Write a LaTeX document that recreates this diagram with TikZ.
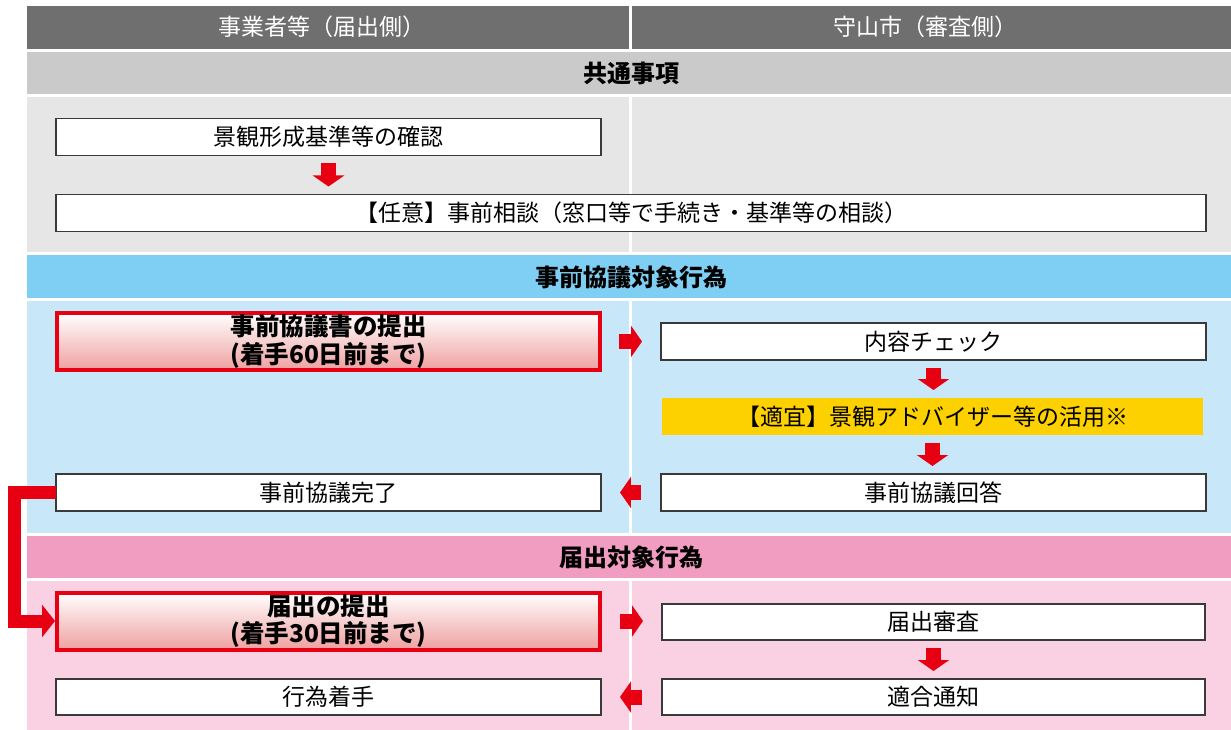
\documentclass[tikz,border=0pt]{standalone}
\usepackage{fontspec}
\setmainfont{Noto Sans CJK JP}
\usetikzlibrary{arrows.meta,calc}
\definecolor{hdr}{HTML}{6F6F6F}
\definecolor{bandA}{HTML}{C9CAC9}
\definecolor{bodyA}{HTML}{E6E6E6}
\definecolor{bandB}{HTML}{7FCEF3}
\definecolor{bodyB}{HTML}{C8E7F9}
\definecolor{bandC}{HTML}{F19DC2}
\definecolor{bodyC}{HTML}{F9D1E3}
\definecolor{myred}{HTML}{E60012}
\definecolor{redpink}{HTML}{EFA0A0}
\definecolor{myyellow}{HTML}{FDD000}
\definecolor{boxline}{HTML}{3A3A3A}
\begin{document}
\begin{tikzpicture}[x=1pt,y=-1pt,
  every node/.style={inner sep=0pt, outer sep=0pt},
  box/.style={draw=boxline, line width=1.5pt, fill=white, minimum width=545pt, minimum height=37pt, font=\fontsize{23}{27}\selectfont},
  redbox/.style={draw=myred, line width=4pt, top color=white, bottom color=redpink, minimum width=543pt, minimum height=57pt, align=center, font=\bfseries\fontsize{24.5}{27.5}\selectfont},
  ybox/.style={fill=myyellow, minimum width=541pt, minimum height=37pt, font=\fontsize{23}{27}\selectfont},
  bandtext/.style={font=\bfseries\fontsize{24}{27}\selectfont},
  hdrtext/.style={text=white, font=\fontsize{23}{27}\selectfont},
  barrow/.style={draw=myred, line width=15pt, -{Triangle[length=11pt,width=31pt]}},
  conn/.style={draw=myred, line width=13pt, line join=miter, -{Triangle[length=13pt,width=32pt]}}
]
\useasboundingbox (0,0) rectangle (1231,730);
% backgrounds
\fill[hdr] (27,6) rectangle (629,49);
\fill[hdr] (632,6) rectangle (1231,49);
\fill[bandA] (27,52) rectangle (1231,94);
\fill[bodyA] (27,97) rectangle (629,252);
\fill[bodyA] (632,97) rectangle (1231,252);
\fill[bandB] (27,255) rectangle (1231,298);
\fill[bodyB] (27,301) rectangle (629,533);
\fill[bodyB] (632,301) rectangle (1231,533);
\fill[bandC] (27,536) rectangle (1231,578);
\fill[bodyC] (27,581) rectangle (629,730);
\fill[bodyC] (632,581) rectangle (1231,730);
% header and band titles
\node[hdrtext] (h1) at (322,27) {事業者等（届出側）};
\node[hdrtext] (h2) at (925,27) {守山市（審査側）};
\node[bandtext] (t1) at (631,73) {共通事項};
\node[bandtext] (t2) at (631,277) {事前協議対象行為};
\node[bandtext] (t3) at (631,557) {届出対象行為};
% boxes
\node[box] (b1) at (328.5,137) {景観形成基準等の確認};
\node[box, minimum width=1150pt] (b2) at (631,213) {【任意】事前相談（窓口等で手続き・基準等の相談）};
\node[redbox] (r1) at (328.5,341.5) {事前協議書の提出\\(着手60日前まで)};
\node[box] (c1) at (933.5,341.5) {内容チェック};
\node[ybox] (y1) at (932.5,416.5) {【適宜】景観アドバイザー等の活用※};
\node[box] (c2) at (933.5,492.5) {事前協議回答};
\node[box] (l1) at (328.5,492.5) {事前協議完了};
\node[redbox] (r2) at (328.5,621) {届出の提出\\(着手30日前まで)};
\node[box, minimum width=543pt, minimum height=36pt] (c3) at (933.5,622) {届出審査};
\node[box, minimum width=543pt, minimum height=36pt] (c4) at (933.5,697) {適合通知};
\node[box, minimum height=36pt] (l2) at (328.5,697) {行為着手};
% block arrows
\draw[barrow, shorten <=8pt, shorten >=8pt] (b1.south) -- (b1.south |- b2.north);
\draw[barrow, shorten <=19pt, shorten >=19pt] (r1.east) -- (c1.west);
\draw[barrow, shorten <=8pt, shorten >=8pt] (c1.south) -- (c1.south |- y1.north);
\draw[barrow, shorten <=8pt, shorten >=8pt] (y1.south) -- (y1.south |- c2.north);
\draw[barrow, shorten <=20pt, shorten >=19pt] (c2.west) -- (l1.east);
\draw[barrow, shorten <=20pt, shorten >=19pt] (r2.east) -- (r2.east -| c3.west);
\draw[barrow, shorten <=8pt, shorten >=8pt] (c3.south) -- (c4.north);
\draw[barrow, shorten <=20pt, shorten >=19pt] (c4.west) -- (l2.east);
% red connector
\coordinate (jog) at ([xshift=-41.5pt]l1.west);
\draw[conn, shorten >=2pt] (l1.west) -- (jog) |- (r2.west);
\end{tikzpicture}
\end{document}
